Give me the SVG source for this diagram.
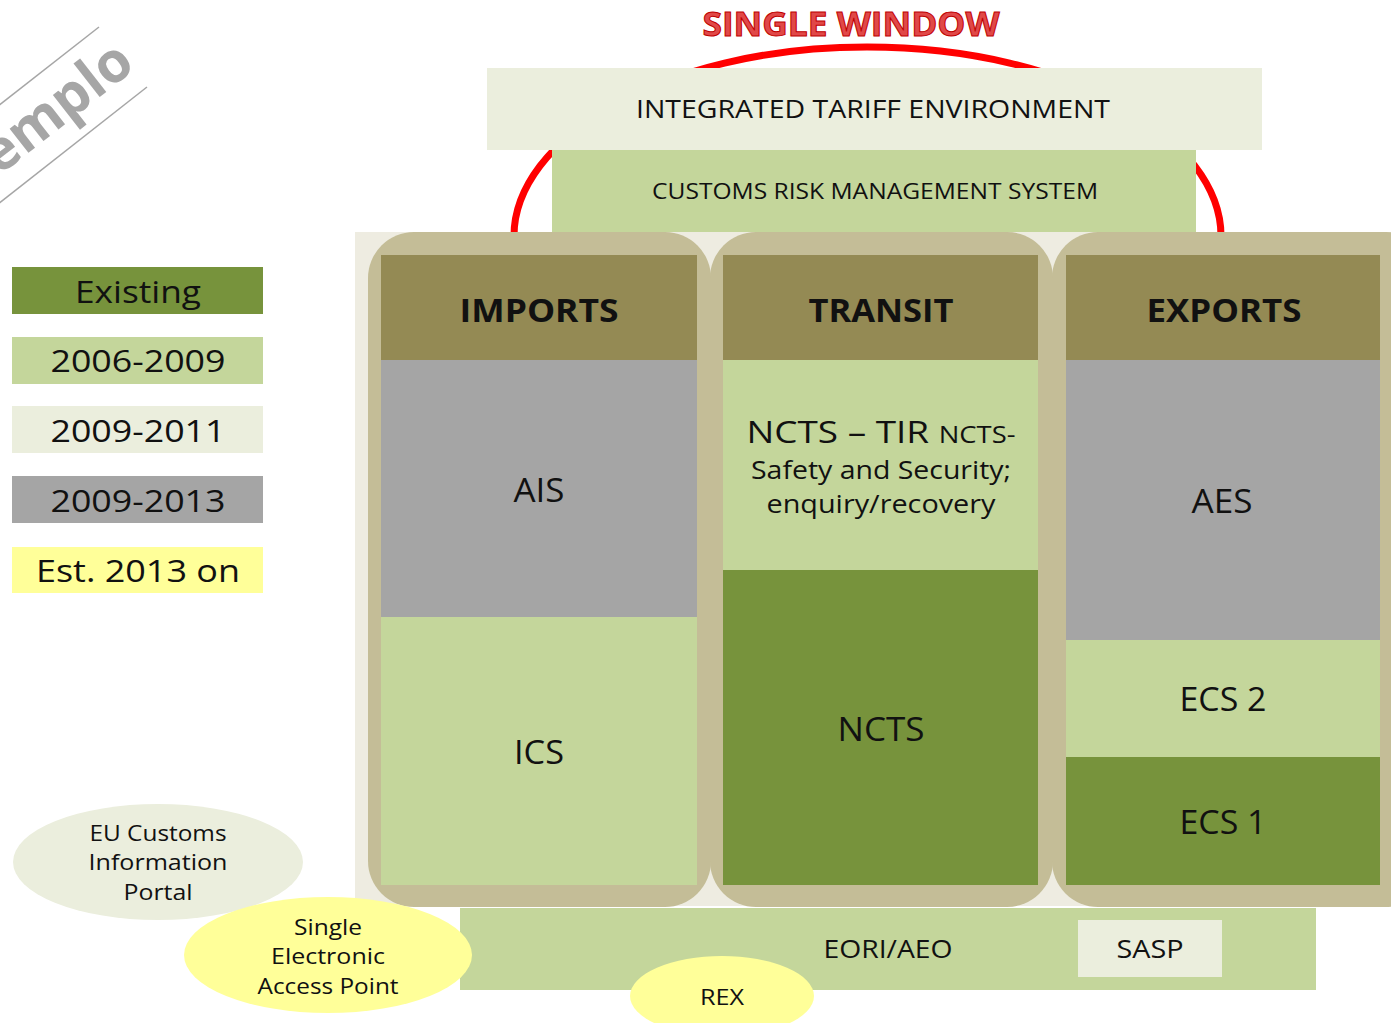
<svg xmlns="http://www.w3.org/2000/svg" width="1391" height="1023" viewBox="0 0 1391 1023">
<style>
text{font-family:"Open Sans","Liberation Sans",sans-serif;fill:#111;text-anchor:middle}
.b{font-weight:bold}
.lg{fill:#c4d69b}.dg{fill:#77933c}.pl{fill:#ebeedd}.gr{fill:#a5a5a5}.yl{fill:#ffff99}.hd{fill:#948a54}.tan{fill:#c4bd97}
</style>
<rect width="1391" height="1023" fill="#ffffff"/>
<g id="watermark">
<line x1="-30" y1="128" x2="99" y2="27" stroke="#a6a6a6" stroke-width="1.5"/>
<line x1="-30" y1="226" x2="147" y2="87" stroke="#a6a6a6" stroke-width="1.5"/>
<text transform="translate(137,68) rotate(-38)" style="text-anchor:end;fill:#a6a6a6;font-size:56px" class="b">Ejemplo</text>
</g>
<g id="single-window">
<path d="M514,236 C514,140 660,47 867,47 C1074,47 1221,140 1221,236" fill="none" stroke="#ff0000" stroke-width="7"/>
<text x="851" y="36" class="b" style="font-size:34px;fill:#e04848;stroke:#c00000;stroke-width:1" textLength="297" lengthAdjust="spacingAndGlyphs">SINGLE WINDOW</text>
</g>
<g id="ite">
<rect x="487" y="68" width="775" height="82" class="pl"/>
<text x="873" y="118" style="font-size:26px" textLength="474" lengthAdjust="spacingAndGlyphs">INTEGRATED TARIFF ENVIRONMENT</text>
</g>
<g id="crms">
<rect x="552" y="150" width="644" height="82" class="lg"/>
<text x="875" y="199" style="font-size:22px" textLength="446" lengthAdjust="spacingAndGlyphs">CUSTOMS RISK MANAGEMENT SYSTEM</text>
</g>
<rect x="355" y="232" width="1036" height="674" fill="#eeece1"/>
<g id="imports">
<rect x="368" y="232" width="343" height="675" rx="46" class="tan"/>
<rect x="381" y="255" width="316" height="105" class="hd"/>
<text x="539" y="322" class="b" style="font-size:32px" textLength="159" lengthAdjust="spacingAndGlyphs">IMPORTS</text>
</g>
<g id="ais">
<rect x="381" y="360" width="316" height="257" class="gr"/>
<text x="539" y="502" style="font-size:33px" textLength="51" lengthAdjust="spacingAndGlyphs">AIS</text>
</g>
<g id="ics">
<rect x="381" y="617" width="316" height="268" class="lg"/>
<text x="539" y="764" style="font-size:33px" textLength="50" lengthAdjust="spacingAndGlyphs">ICS</text>
</g>
<g id="transit">
<rect x="710" y="232" width="343" height="675" rx="46" class="tan"/>
<rect x="723" y="255" width="315" height="105" class="hd"/>
<text x="881" y="322" class="b" style="font-size:32px" textLength="145" lengthAdjust="spacingAndGlyphs">TRANSIT</text>
</g>
<g id="ncts-tir">
<rect x="723" y="360" width="315" height="210" class="lg"/>
<text x="881" y="443" style="font-size:31px" textLength="269" lengthAdjust="spacingAndGlyphs">NCTS – TIR <tspan style="font-size:23px">NCTS-</tspan></text>
<text x="881" y="479" style="font-size:26px" textLength="260" lengthAdjust="spacingAndGlyphs">Safety and Security;</text>
<text x="881" y="513" style="font-size:26px" textLength="229" lengthAdjust="spacingAndGlyphs">enquiry/recovery</text>
</g>
<g id="ncts">
<rect x="723" y="570" width="315" height="315" class="dg"/>
<text x="881" y="741" style="font-size:33px" textLength="87" lengthAdjust="spacingAndGlyphs">NCTS</text>
</g>
<g id="exports">
<rect x="1052" y="232" width="380" height="675" rx="46" class="tan"/>
<rect x="1066" y="255" width="314" height="105" class="hd"/>
<text x="1224" y="322" class="b" style="font-size:32px" textLength="155" lengthAdjust="spacingAndGlyphs">EXPORTS</text>
</g>
<g id="aes">
<rect x="1066" y="360" width="314" height="280" class="gr"/>
<text x="1222" y="513" style="font-size:33px" textLength="61" lengthAdjust="spacingAndGlyphs">AES</text>
</g>
<g id="ecs2">
<rect x="1066" y="640" width="314" height="117" class="lg"/>
<text x="1223" y="711" style="font-size:33px" textLength="87" lengthAdjust="spacingAndGlyphs">ECS 2</text>
</g>
<g id="ecs1">
<rect x="1066" y="757" width="314" height="128" class="dg"/>
<text x="1223" y="834" style="font-size:33px" textLength="87" lengthAdjust="spacingAndGlyphs">ECS 1</text>
</g>
<g id="eori">
<rect x="460" y="908" width="856" height="82" class="lg"/>
<text x="888" y="958" style="font-size:26px" textLength="129" lengthAdjust="spacingAndGlyphs">EORI/AEO</text>
</g>
<g id="sasp">
<rect x="1078" y="920" width="144" height="57" class="pl"/>
<text x="1150" y="958" style="font-size:26px" textLength="67" lengthAdjust="spacingAndGlyphs">SASP</text>
</g>
<g id="rex">
<ellipse cx="722" cy="996" rx="92" ry="40" class="yl"/>
<text x="722" y="1005" style="font-size:22px" textLength="44" lengthAdjust="spacingAndGlyphs">REX</text>
</g>
<g id="eu-portal">
<ellipse cx="158" cy="862" rx="145" ry="58" class="pl"/>
<text x="158" y="841" style="font-size:22px" textLength="137" lengthAdjust="spacingAndGlyphs">EU Customs</text>
<text x="158" y="870" style="font-size:22px" textLength="139" lengthAdjust="spacingAndGlyphs">Information</text>
<text x="158" y="900" style="font-size:22px" textLength="69" lengthAdjust="spacingAndGlyphs">Portal</text>
</g>
<g id="seap">
<ellipse cx="328" cy="955" rx="144" ry="58" class="yl"/>
<text x="328" y="935" style="font-size:22px" textLength="68" lengthAdjust="spacingAndGlyphs">Single</text>
<text x="328" y="964" style="font-size:22px" textLength="114" lengthAdjust="spacingAndGlyphs">Electronic</text>
<text x="328" y="994" style="font-size:22px" textLength="141" lengthAdjust="spacingAndGlyphs">Access Point</text>
</g>
<g id="legend">
<rect x="12" y="267" width="251" height="47" class="dg"/>
<text x="138" y="303" style="font-size:31px" textLength="126" lengthAdjust="spacingAndGlyphs">Existing</text>
<rect x="12" y="337" width="251" height="47" class="lg"/>
<text x="138" y="372" style="font-size:31px" textLength="175" lengthAdjust="spacingAndGlyphs">2006-2009</text>
<rect x="12" y="406" width="251" height="47" class="pl"/>
<text x="138" y="442" style="font-size:31px" textLength="175" lengthAdjust="spacingAndGlyphs">2009-2011</text>
<rect x="12" y="476" width="251" height="47" class="gr"/>
<text x="138" y="512" style="font-size:31px" textLength="175" lengthAdjust="spacingAndGlyphs">2009-2013</text>
<rect x="12" y="547" width="251" height="46" class="yl"/>
<text x="138" y="582" style="font-size:31px" textLength="204" lengthAdjust="spacingAndGlyphs">Est. 2013 on</text>
</g>
<g id="connectors"></g>
</svg>
